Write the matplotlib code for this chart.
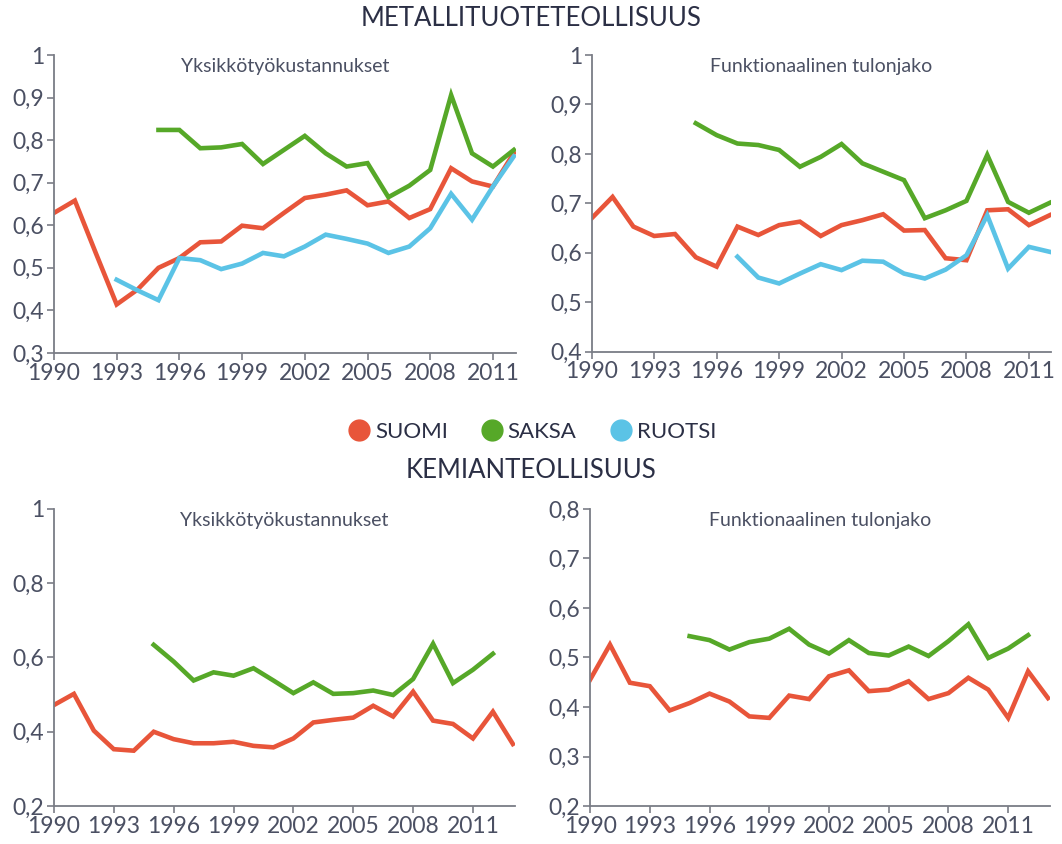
import numpy as np
import matplotlib.pyplot as plt
from matplotlib.lines import Line2D
from matplotlib.ticker import FuncFormatter

plt.rcParams['font.family'] = ['Lato', 'DejaVu Sans']

# ------------- data -------------
years_top = list(range(1990, 2013))
years_bot = list(range(1990, 2014))

# Metallituoteteollisuus, yksikkötyökustannukset
met_ulc_fi = [0.629, 0.658, 0.535, 0.414, 0.449, 0.500, 0.523, 0.560, 0.562, 0.599, 0.593,
              0.629, 0.664, 0.672, 0.682, 0.647, 0.656, 0.617, 0.638, 0.734, 0.703, 0.691, 0.770]
met_ulc_de = [0.824, 0.824, 0.781, 0.783, 0.791, 0.744, 0.777, 0.810, 0.769, 0.738, 0.746,
              0.666, 0.693, 0.730, 0.906, 0.769, 0.738, 0.777]            # 1995-2012
met_ulc_se = [0.472, 0.447, 0.424, 0.523, 0.518, 0.497, 0.510, 0.535, 0.527, 0.550, 0.578,
              0.568, 0.557, 0.535, 0.550, 0.593, 0.674, 0.613, 0.691, 0.762]  # 1993-2012

# Metallituoteteollisuus, funktionaalinen tulonjako
met_fun_fi = [0.670, 0.713, 0.653, 0.634, 0.638, 0.591, 0.572, 0.653, 0.636, 0.656, 0.663,
              0.634, 0.656, 0.666, 0.678, 0.645, 0.646, 0.589, 0.585, 0.686, 0.688, 0.656, 0.676]
met_fun_de = [0.862, 0.838, 0.821, 0.818, 0.808, 0.774, 0.794, 0.820, 0.781, 0.764, 0.747,
              0.670, 0.686, 0.705, 0.798, 0.703, 0.681, 0.701]            # 1995-2012
met_fun_se = [0.592, 0.550, 0.538, 0.558, 0.577, 0.565, 0.584, 0.582, 0.558, 0.548, 0.566,
              0.595, 0.676, 0.568, 0.612, 0.602]                          # 1997-2012

# Kemianteollisuus, yksikkötyökustannukset
kem_ulc_fi = [0.472, 0.502, 0.403, 0.353, 0.349, 0.400, 0.380, 0.369, 0.369, 0.373, 0.362, 0.358,
              0.382, 0.425, 0.432, 0.438, 0.470, 0.441, 0.508, 0.430, 0.421, 0.382, 0.454, 0.367]
kem_ulc_de = [0.634, 0.589, 0.538, 0.560, 0.551, 0.571, 0.538, 0.504, 0.533, 0.502, 0.504,
              0.511, 0.499, 0.542, 0.637, 0.531, 0.567, 0.610]            # 1995-2012

# Kemianteollisuus, funktionaalinen tulonjako
kem_fun_fi = [0.455, 0.526, 0.449, 0.442, 0.393, 0.408, 0.427, 0.411, 0.381, 0.378, 0.423, 0.416,
              0.462, 0.474, 0.432, 0.435, 0.452, 0.416, 0.428, 0.459, 0.435, 0.378, 0.472, 0.418]
kem_fun_de = [0.543, 0.535, 0.516, 0.531, 0.538, 0.558, 0.526, 0.508, 0.535, 0.509, 0.504,
              0.522, 0.503, 0.533, 0.567, 0.499, 0.518, 0.545]            # 1995-2012

countries = ["SUOMI", "SAKSA", "RUOTSI"]
colors = {"SUOMI": "#e8553a", "SAKSA": "#56a828", "RUOTSI": "#5bc3e6"}
xticks = list(range(1990, 2012, 3))

text_col = "#4b5063"
spine_col = "#7a7d86"


def yfmt(v, pos):
    return f"{v:g}".replace(".", ",")


def panel(rect, title, series, xmax, ylim, ystep):
    ax = fig.add_axes(rect)
    for name, start, vals in series:
        yrs = np.arange(start, start + len(vals))
        ax.plot(yrs, vals, color=colors[name], lw=3.3, solid_joinstyle="miter")
    ax.set_xlim(1990, xmax)
    ax.set_ylim(*ylim)
    ax.set_xticks(xticks)
    ax.set_yticks(np.round(np.arange(ylim[0], ylim[1] + 1e-9, ystep), 2))
    ax.yaxis.set_major_formatter(FuncFormatter(yfmt))
    for s in ("top", "right"):
        ax.spines[s].set_visible(False)
    for s in ("left", "bottom"):
        ax.spines[s].set_color(spine_col)
        ax.spines[s].set_linewidth(1.3)
    ax.tick_params(colors=spine_col, labelcolor=text_col, labelsize=16.5,
                   length=5, width=1.2, pad=2)
    ax.text(0.5, 0.99, title, transform=ax.transAxes, ha="center", va="top",
            fontsize=14, color=text_col)
    ax.set_facecolor("none")
    return ax


fig = plt.figure(figsize=(10.62, 8.44), dpi=100)

panel([0.0508, 0.5818, 0.435, 0.353], "Yksikkötyökustannukset",
      [("SUOMI", 1990, met_ulc_fi), ("RUOTSI", 1993, met_ulc_se), ("SAKSA", 1995, met_ulc_de)],
      2012.1, (0.3, 1.0), 0.1)
panel([0.5572, 0.5833, 0.4322, 0.3515], "Funktionaalinen tulonjako",
      [("SUOMI", 1990, met_fun_fi), ("RUOTSI", 1997, met_fun_se), ("SAKSA", 1995, met_fun_de)],
      2012.05, (0.4, 1.0), 0.1)
panel([0.0508, 0.045, 0.434, 0.352], "Yksikkötyökustannukset",
      [("SUOMI", 1990, kem_ulc_fi), ("SAKSA", 1995, kem_ulc_de)],
      2013.1, (0.2, 1.0), 0.2)
panel([0.5556, 0.045, 0.4331, 0.352], "Funktionaalinen tulonjako",
      [("SUOMI", 1990, kem_fun_fi), ("SAKSA", 1995, kem_fun_de)],
      2013.1, (0.2, 0.8), 0.1)

fig.text(0.5, 1 - 19 / 844, "METALLITUOTETEOLLISUUS", ha="center", va="center",
         fontsize=18.5, color="#2b2f45")
fig.text(0.5, 1 - 471 / 844, "KEMIANTEOLLISUUS", ha="center", va="center",
         fontsize=18.5, color="#2b2f45")

handles = [Line2D([], [], ls="none", marker="o", ms=15, color=colors[c]) for c in countries]
leg = fig.legend(handles, countries, loc="center", bbox_to_anchor=(0.5, 1 - 432 / 844),
                 ncol=3, frameon=False, fontsize=16, handletextpad=0.1,
                 columnspacing=1.4, handlelength=1.2)
for t in leg.get_texts():
    t.set_color("#2b2f45")

fig.savefig("out.png", dpi=100)
